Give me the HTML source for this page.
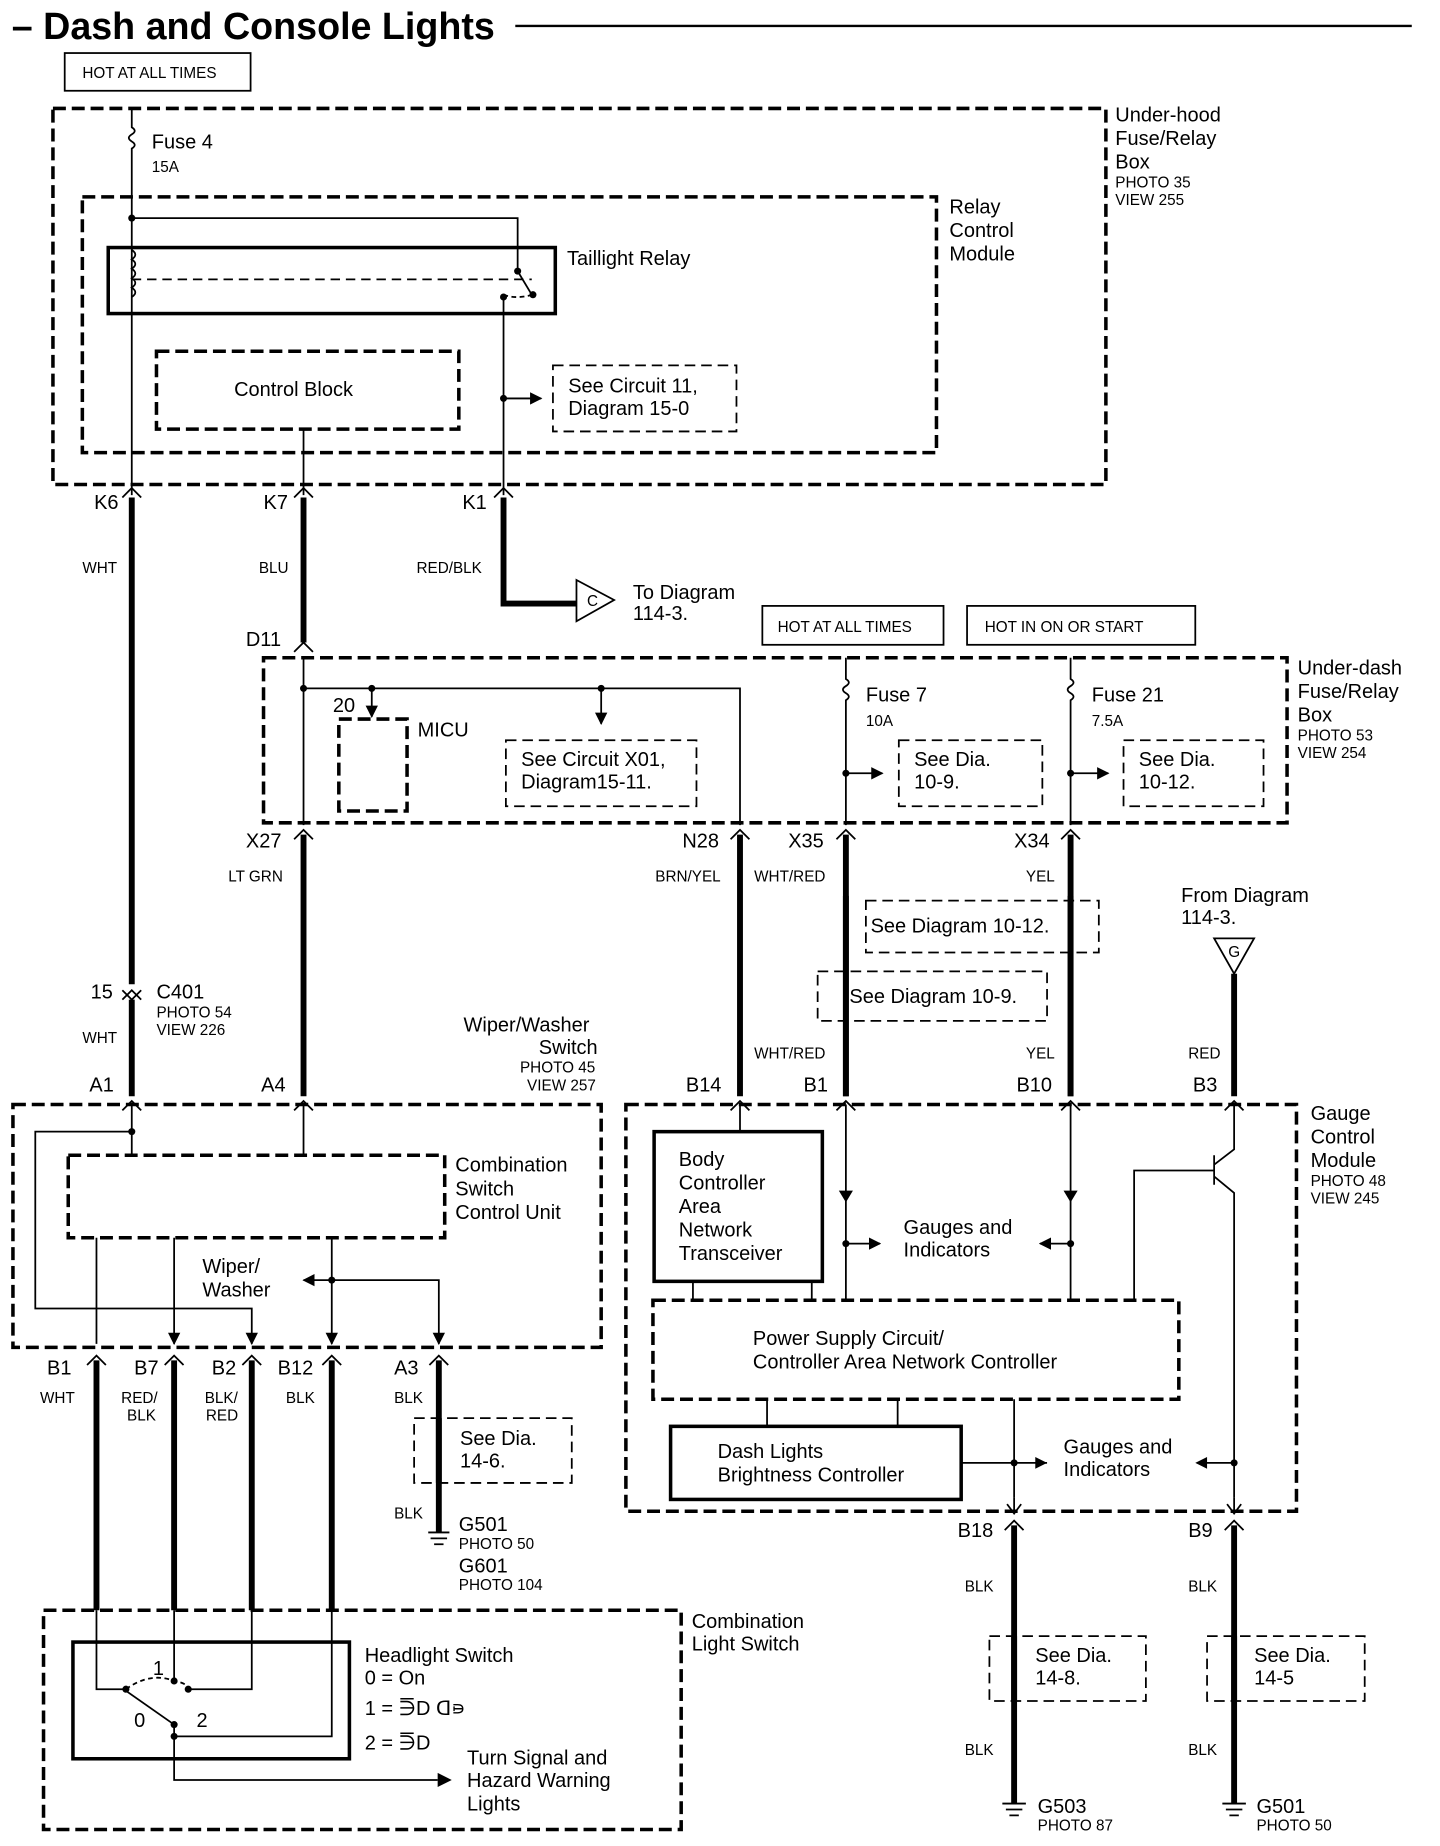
<!DOCTYPE html>
<html><head><meta charset="utf-8"><style>
html,body{margin:0;padding:0;background:#fff}
svg{display:block}
text{font-family:"Liberation Sans",sans-serif;fill:#000}
.l{font-size:17px}.s{font-size:13px}.m{font-size:15px}
.d{fill:none;stroke:#000;stroke-width:3;stroke-dasharray:11 5}
.dt{fill:none;stroke:#000;stroke-width:1.5;stroke-dasharray:9 5}
.b{fill:none;stroke:#000;stroke-width:3}
.w{fill:none;stroke:#000;stroke-width:5}
.t{fill:none;stroke:#000;stroke-width:1.5}
</style></head><body>
<svg width="1440" height="1846" viewBox="0 0 1224 1566" preserveAspectRatio="none" xmlns="http://www.w3.org/2000/svg">
<defs>
<marker id="ar" viewBox="0 0 10 10" refX="9" refY="5" markerWidth="7" markerHeight="7" orient="auto"><path d="M0,0L10,5L0,10z" fill="#000"/></marker>
</defs>
<!-- title -->
<text x="10" y="33" style="font-size:32px;font-weight:bold">– Dash and Console Lights</text>
<line x1="438" y1="22" x2="1200" y2="22" stroke="#000" stroke-width="2"/>
<rect x="55" y="45" width="158" height="32" class="t"/><text x="70" y="66" class="s">HOT AT ALL TIMES</text>

<!-- under-hood -->
<rect x="45" y="92" width="895" height="319" class="d"/>
<text x="948" y="103" class="l">Under-hood</text><text x="948" y="123" class="l">Fuse/Relay</text><text x="948" y="143" class="l">Box</text>
<text x="948" y="159" class="s">PHOTO 35</text><text x="948" y="174" class="s">VIEW 255</text>
<path d="M112,92 V108 q5,3 0,6 q-5,3 0,6 q5,3 0,6 V420" class="t"/>
<text x="129" y="126" class="l">Fuse 4</text><text x="129" y="146" class="s">15A</text>
<rect x="70" y="167" width="726" height="217" class="d"/>
<text x="807" y="181" class="l">Relay</text><text x="807" y="201" class="l">Control</text><text x="807" y="221" class="l">Module</text>
<rect x="92" y="210" width="380" height="56" class="b"/>
<text x="482" y="225" class="l">Taillight Relay</text>
<circle cx="112" cy="185" r="3"/>
<path d="M112,185 H440 V230" class="t"/><circle cx="440" cy="230" r="3"/>
<path d="M440,230 L452,250" class="t" stroke-width="2"/><circle cx="453" cy="250" r="3"/>
<path d="M112,237 H452" class="t" stroke-dasharray="8 5"/>
<path d="M112,212 q6,4 0,8 q6,4 0,8 q6,4 0,8 q6,4 0,8 q6,4 0,8" class="t"/>
<path d="M428,250 q10,4 25,0" class="t" stroke-dasharray="4 3"/><circle cx="428" cy="252" r="3"/>
<path d="M428,252 V420" class="t"/>
<circle cx="428" cy="338" r="3"/><path d="M428,338 H460" class="t" marker-end="url(#ar)"/>
<rect x="133" y="298" width="257" height="66" class="d"/><text x="199" y="336" class="l">Control Block</text>
<rect x="470" y="310" width="156" height="56" class="dt"/>
<text x="483" y="333" class="l">See Circuit 11,</text><text x="483" y="352" class="l">Diagram 15-0</text>
<path d="M258,364 V420" class="t"/>

<!-- top wires -->
<text x="80" y="432" class="l">K6</text><text x="224" y="432" class="l">K7</text><text x="393" y="432" class="l">K1</text>
<path d="M104,422 L112,414 L120,422 M250,422 L258,414 L266,422 M420,422 L428,414 L436,422" class="t" stroke-width="2"/>
<path d="M112,422 V835" class="w"/>
<path d="M258,422 V545" class="w"/>
<path d="M428,422 V512 H490" class="w"/>
<path d="M490,492 L522,509 L490,527 Z" class="t" fill="#fff"/><text x="499" y="514" class="s">C</text>
<text x="538" y="508" class="l">To Diagram</text><text x="538" y="526" class="l">114-3.</text>
<text x="70" y="486" class="s">WHT</text><text x="220" y="486" class="s">BLU</text><text x="354" y="486" class="s">RED/BLK</text>
<rect x="648" y="514" width="154" height="33" class="t"/><text x="661" y="536" class="s">HOT AT ALL TIMES</text>
<rect x="822" y="514" width="194" height="33" class="t"/><text x="837" y="536" class="s">HOT IN ON OR START</text>

<!-- under-dash -->
<text x="209" y="548" class="l">D11</text>
<path d="M250,553 L258,545 L266,553" class="t" stroke-width="2"/>
<rect x="224" y="558" width="870" height="140" class="d"/>
<text x="1103" y="572" class="l">Under-dash</text><text x="1103" y="592" class="l">Fuse/Relay</text><text x="1103" y="612" class="l">Box</text>
<text x="1103" y="628" class="s">PHOTO 53</text><text x="1103" y="643" class="s">VIEW 254</text>
<path d="M258,558 V700" class="t"/><circle cx="258" cy="584" r="3"/>
<path d="M258,584 H629 V700" class="t"/>
<circle cx="316" cy="584" r="3"/><path d="M316,584 V608" class="t" marker-end="url(#ar)"/>
<circle cx="511" cy="584" r="3"/><path d="M511,584 V614" class="t" marker-end="url(#ar)"/>
<text x="283" y="604" class="l">20</text>
<rect x="288" y="610" width="58" height="78" class="d"/><text x="355" y="625" class="l">MICU</text>
<rect x="430" y="628" width="162" height="56" class="dt"/>
<text x="443" y="650" class="l">See Circuit X01,</text><text x="443" y="669" class="l">Diagram15-11.</text>
<path d="M719,558 V576 q5,3 0,6 q-5,3 0,6 q5,3 0,6 V700" class="t"/>
<text x="736" y="595" class="l">Fuse 7</text><text x="736" y="616" class="s">10A</text>
<circle cx="719" cy="656" r="3"/><path d="M719,656 H750" class="t" marker-end="url(#ar)"/>
<rect x="764" y="628" width="122" height="56" class="dt"/><text x="777" y="650" class="l">See  Dia.</text><text x="777" y="669" class="l">10-9.</text>
<path d="M910,558 V576 q5,3 0,6 q-5,3 0,6 q5,3 0,6 V700" class="t"/>
<text x="928" y="595" class="l">Fuse 21</text><text x="928" y="616" class="s">7.5A</text>
<circle cx="910" cy="656" r="3"/><path d="M910,656 H942" class="t" marker-end="url(#ar)"/>
<rect x="955" y="628" width="119" height="56" class="dt"/><text x="968" y="650" class="l">See  Dia.</text><text x="968" y="669" class="l">10-12.</text>

<!-- middle wires -->
<text x="209" y="719" class="l">X27</text><text x="580" y="719" class="l">N28</text><text x="670" y="719" class="l">X35</text><text x="862" y="719" class="l">X34</text>
<path d="M250,712 L258,704 L266,712 M621,712 L629,704 L637,712 M711,712 L719,704 L727,712 M902,712 L910,704 L918,712" class="t" stroke-width="2"/>
<path d="M258,708 V930 M629,708 V930 M719,708 V930 M910,708 V930" class="w"/>
<text x="194" y="748" class="s">LT GRN</text><text x="557" y="748" class="s">BRN/YEL</text><text x="641" y="748" class="s">WHT/RED</text><text x="872" y="748" class="s">YEL</text>
<rect x="736" y="764" width="198" height="44" class="dt" fill="#fff"/><text x="740" y="791" class="l">See Diagram 10-12.</text>
<rect x="695" y="824" width="195" height="42" class="dt" fill="#fff"/><text x="722" y="851" class="l">See  Diagram 10-9.</text>
<path d="M719,760 V930 M910,760 V930" class="w"/>
<text x="641" y="898" class="s">WHT/RED</text><text x="872" y="898" class="s">YEL</text>
<text x="1004" y="765" class="l">From Diagram</text><text x="1004" y="784" class="l">114-3.</text>
<path d="M1032,796 L1066,796 L1049,826 Z" class="t" fill="#fff"/><text x="1044" y="812" class="s">G</text>
<path d="M1049,826 V930" class="w"/><text x="1010" y="898" class="s">RED</text>

<!-- C401 -->
<text x="77" y="847" class="l">15</text><text x="133" y="847" class="l">C401</text>
<text x="133" y="863" class="s">PHOTO 54</text><text x="133" y="878" class="s">VIEW 226</text>
<path d="M104,848 L112,840 L120,848 M104,840 L112,848 L120,840" class="t" stroke-width="2" fill="none"/>
<path d="M112,848 V930" class="w"/><text x="70" y="885" class="s">WHT</text>

<!-- wiper/washer switch -->
<text x="394" y="875" class="l">Wiper/Washer</text><text x="458" y="894" class="l">Switch</text>
<text x="442" y="910" class="s">PHOTO 45</text><text x="448" y="925" class="s">VIEW 257</text>
<text x="76" y="926" class="l">A1</text><text x="222" y="926" class="l">A4</text>
<text x="583" y="926" class="l">B14</text><text x="683" y="926" class="l">B1</text><text x="864" y="926" class="l">B10</text><text x="1014" y="926" class="l">B3</text>
<path d="M104,942 L112,934 L120,942 M250,942 L258,934 L266,942 M621,942 L629,934 L637,942 M711,942 L719,934 L727,942 M902,942 L910,934 L918,942 M1041,942 L1049,934 L1057,942" class="t" stroke-width="2"/>
<rect x="11" y="937" width="500" height="206" class="d"/>
<path d="M112,937 V980 M258,937 V980" class="t"/>
<circle cx="112" cy="960" r="3"/><path d="M112,960 H30 V1110 H214 V1140" class="t" marker-end="url(#ar)"/>
<rect x="58" y="980" width="320" height="70" class="d"/>
<text x="387" y="994" class="l">Combination</text><text x="387" y="1014" class="l">Switch</text><text x="387" y="1034" class="l">Control Unit</text>
<path d="M82,1050 V1140 M148,1050 V1140" class="t" marker-end="url(#ar)"/>
<path d="M282,1050 V1140" class="t" marker-end="url(#ar)"/>
<text x="172" y="1080" class="l">Wiper/</text><text x="172" y="1100" class="l">Washer</text>
<path d="M282,1086 L258,1086" class="t" marker-end="url(#ar)"/>
<path d="M282,1086 H373 V1140" class="t" marker-end="url(#ar)"/><circle cx="282" cy="1086" r="3"/>
<text x="40" y="1166" class="l">B1</text><text x="114" y="1166" class="l">B7</text><text x="180" y="1166" class="l">B2</text><text x="236" y="1166" class="l">B12</text><text x="335" y="1166" class="l">A3</text>
<path d="M74,1158 L82,1150 L90,1158 M140,1158 L148,1150 L156,1158 M206,1158 L214,1150 L222,1158 M274,1158 L282,1150 L290,1158 M365,1158 L373,1150 L381,1158" class="t" stroke-width="2"/>
<path d="M82,1154 V1366 M148,1154 V1366 M214,1154 V1366 M282,1154 V1366 M373,1154 V1300" class="w"/>
<text x="34" y="1190" class="s">WHT</text><text x="103" y="1190" class="s">RED/</text><text x="108" y="1205" class="s">BLK</text>
<text x="174" y="1190" class="s">BLK/</text><text x="175" y="1205" class="s">RED</text><text x="243" y="1190" class="s">BLK</text><text x="335" y="1190" class="s">BLK</text>
<rect x="352" y="1203" width="134" height="55" class="dt" fill="#fff"/><text x="391" y="1226" class="l">See Dia.</text><text x="391" y="1245" class="l">14-6.</text>
<path d="M373,1203 V1258" class="w"/>
<text x="335" y="1288" class="s">BLK</text>
<path d="M364,1300 H382 M366,1305 H380 M369,1310 H377" class="t" stroke-width="2.5"/>
<text x="390" y="1299" class="l">G501</text><text x="390" y="1314" class="s">PHOTO 50</text>
<text x="390" y="1334" class="l">G601</text><text x="390" y="1349" class="s">PHOTO 104</text>

<!-- gauge control module -->
<text x="1114" y="950" class="l">Gauge</text><text x="1114" y="970" class="l">Control</text><text x="1114" y="990" class="l">Module</text>
<text x="1114" y="1006" class="s">PHOTO 48</text><text x="1114" y="1021" class="s">VIEW 245</text>
<rect x="532" y="937" width="570" height="345" class="d"/>
<path d="M629,937 V960" class="t"/>
<rect x="556" y="960" width="143" height="127" class="b"/>
<text x="577" y="989" class="l">Body</text><text x="577" y="1009" class="l">Controller</text><text x="577" y="1029" class="l">Area</text><text x="577" y="1049" class="l">Network</text><text x="577" y="1069" class="l">Transceiver</text>
<path d="M719,937 V1103 M910,937 V1103" class="t"/>
<path d="M713,1010 H725 L719,1020 Z M904,1010 H916 L910,1020 Z"/>
<circle cx="719" cy="1055" r="3"/><path d="M719,1055 H748" class="t" marker-end="url(#ar)"/>
<circle cx="910" cy="1055" r="3"/><path d="M910,1055 H884" class="t" marker-end="url(#ar)"/>
<text x="768" y="1047" class="l">Gauges and</text><text x="768" y="1066" class="l">Indicators</text>
<path d="M1049,937 V975 L1032,988 M1032,980 V1005 M1032,993 H964 V1103 M1032,998 L1049,1012 V1270" class="t"/>
<path d="M589,1087 V1103 M690,1087 V1103" class="t"/>
<rect x="555" y="1103" width="447" height="84" class="d"/>
<text x="640" y="1141" class="l">Power Supply Circuit/</text><text x="640" y="1161" class="l">Controller Area Network Controller</text>
<path d="M652,1187 V1210 M763,1187 V1210 M862,1187 V1270" class="t"/>
<rect x="570" y="1210" width="247" height="62" class="b"/>
<text x="610" y="1237" class="l">Dash Lights</text><text x="610" y="1257" class="l">Brightness Controller</text>
<path d="M817,1241 H862 M862,1241 H890" class="t"/><circle cx="862" cy="1241" r="3"/>
<path d="M890,1241 L880,1236 V1246 Z"/>
<path d="M1049,1241 H1024" class="t"/><circle cx="1049" cy="1241" r="3"/><path d="M1016,1241 L1026,1236 V1246 Z"/>
<text x="904" y="1233" class="l">Gauges and</text><text x="904" y="1252" class="l">Indicators</text>
<path d="M862,1270 V1282 M1049,1270 V1282" class="t"/>
<path d="M856,1276 L862,1284 L868,1276 M1043,1276 L1049,1284 L1055,1276" class="t" stroke-width="2"/>
<text x="814" y="1304" class="l">B18</text><text x="1010" y="1304" class="l">B9</text>
<path d="M854,1298 L862,1290 L870,1298 M1041,1298 L1049,1290 L1057,1298" class="t" stroke-width="2"/>
<path d="M862,1294 V1530 M1049,1294 V1530" class="w"/>
<text x="820" y="1350" class="s">BLK</text><text x="1010" y="1350" class="s">BLK</text>
<rect x="841" y="1388" width="133" height="55" class="dt" fill="#fff"/><text x="880" y="1410" class="l">See Dia.</text><text x="880" y="1429" class="l">14-8.</text>
<rect x="1026" y="1388" width="134" height="55" class="dt" fill="#fff"/><text x="1066" y="1410" class="l">See Dia.</text><text x="1066" y="1429" class="l">14-5</text>
<path d="M862,1388 V1443 M1049,1388 V1443" class="w"/>
<text x="820" y="1489" class="s">BLK</text><text x="1010" y="1489" class="s">BLK</text>
<path d="M852,1530 H872 M855,1535 H869 M858,1540 H866 M1039,1530 H1059 M1042,1535 H1056 M1045,1540 H1053" class="t" stroke-width="2.5"/>
<text x="882" y="1538" class="l">G503</text><text x="882" y="1553" class="s">PHOTO 87</text>
<text x="1068" y="1538" class="l">G501</text><text x="1068" y="1553" class="s">PHOTO 50</text>

<!-- combination light switch -->
<text x="588" y="1381" class="l">Combination</text><text x="588" y="1400" class="l">Light Switch</text>
<rect x="37" y="1366" width="542" height="186" class="d"/>
<rect x="62" y="1393" width="235" height="99" class="b"/>
<path d="M82,1366 V1433 H107 M148,1366 V1426 M214,1366 V1433 H160 M282,1366 V1473 H148" class="t"/>
<path d="M107,1433 Q128,1418 148,1426 Q160,1428 160,1433" class="t" stroke-dasharray="4 3"/>
<circle cx="107" cy="1433" r="3"/><circle cx="148" cy="1426" r="3"/><circle cx="160" cy="1433" r="3"/>
<path d="M108,1435 L148,1463" class="t" stroke-width="2"/><circle cx="148" cy="1463" r="3"/><circle cx="148" cy="1473" r="3"/>
<path d="M148,1463 V1510 H372" class="t"/><path d="M384,1510 L372,1504 V1516 Z"/>
<text x="130" y="1421" class="l">1</text><text x="114" y="1465" class="l">0</text><text x="167" y="1465" class="l">2</text>
<text x="310" y="1410" class="l">Headlight Switch</text><text x="310" y="1429" class="l">0 = On</text>
<text x="310" y="1455" class="l">1 = ⋽D ᗡ⋼</text><text x="310" y="1484" class="l">2 = ⋽D</text>
<text x="397" y="1497" class="l">Turn Signal and</text><text x="397" y="1516" class="l">Hazard Warning</text><text x="397" y="1536" class="l">Lights</text>
</svg>
</body></html>
